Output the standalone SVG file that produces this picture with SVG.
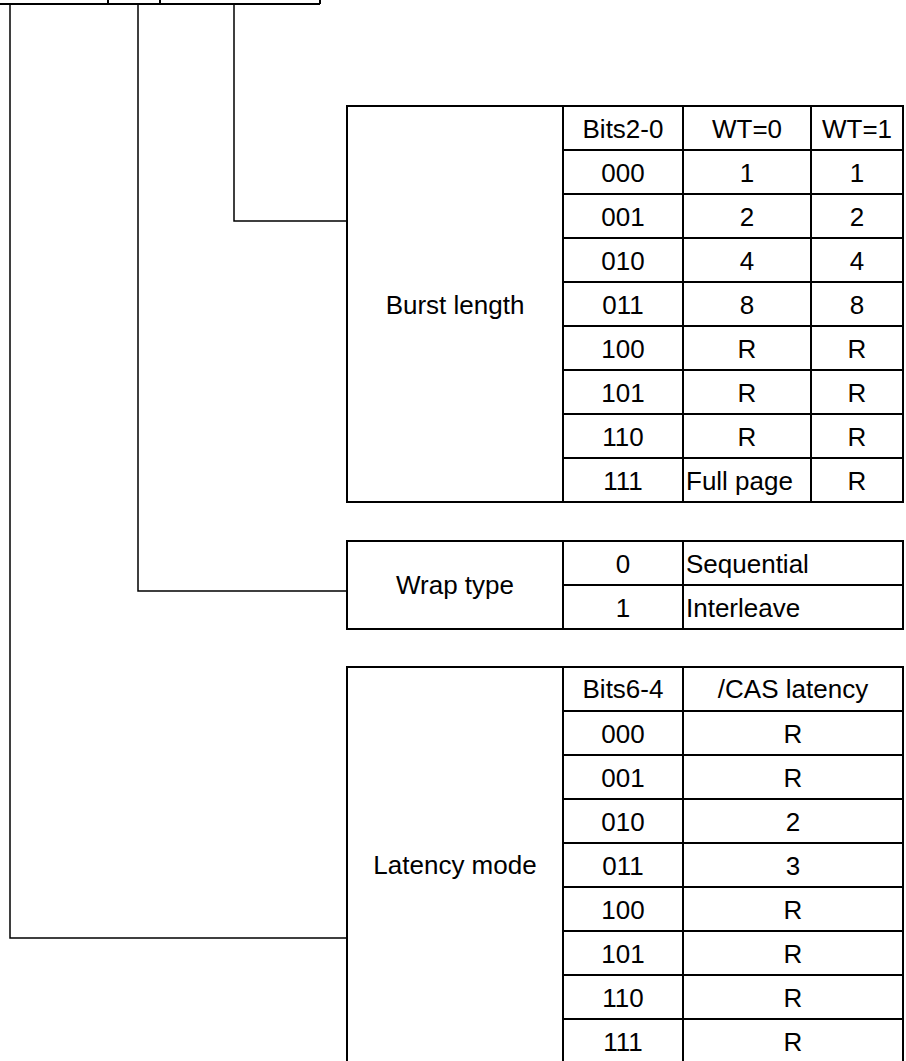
<svg xmlns="http://www.w3.org/2000/svg" width="906" height="1061" viewBox="0 0 906 1061">
<style>
.t{font-family:"Liberation Sans",Arial,sans-serif;font-size:26px;fill:#000;text-anchor:middle}
.l{text-anchor:start}
.b{fill:none;stroke:#000;stroke-width:2}
.c{fill:none;stroke:#000;stroke-width:1.5}
</style>
<rect width="906" height="1061" fill="#fff"/>
<g id="register">
<path class="b" d="M0 4H320M108 0V4M160 0V4M320 0V4"/>
</g>
<g id="connectors">
<path class="c" d="M234 4V221H347"/>
<path class="c" d="M138 4V591H347"/>
<path class="c" d="M10 4V938H347"/>
</g>
<g id="burst-length">
<rect class="b" x="347" y="106" width="556" height="396"/>
<path class="b" d="M563 106V502M683 106V502M811 106V502M563 150H903M563 194H903M563 238H903M563 282H903M563 326H903M563 370H903M563 414H903M563 458H903"/>
<text class="t" x="455" y="313.5">Burst length</text>
<text class="t" x="623" y="137.5">Bits2-0</text><text class="t" x="747" y="137.5">WT=0</text><text class="t" x="857" y="137.5">WT=1</text>
<text class="t" x="623" y="181.5">000</text><text class="t" x="747" y="181.5">1</text><text class="t" x="857" y="181.5">1</text>
<text class="t" x="623" y="225.5">001</text><text class="t" x="747" y="225.5">2</text><text class="t" x="857" y="225.5">2</text>
<text class="t" x="623" y="269.5">010</text><text class="t" x="747" y="269.5">4</text><text class="t" x="857" y="269.5">4</text>
<text class="t" x="623" y="313.5">011</text><text class="t" x="747" y="313.5">8</text><text class="t" x="857" y="313.5">8</text>
<text class="t" x="623" y="357.5">100</text><text class="t" x="747" y="357.5">R</text><text class="t" x="857" y="357.5">R</text>
<text class="t" x="623" y="401.5">101</text><text class="t" x="747" y="401.5">R</text><text class="t" x="857" y="401.5">R</text>
<text class="t" x="623" y="445.5">110</text><text class="t" x="747" y="445.5">R</text><text class="t" x="857" y="445.5">R</text>
<text class="t" x="623" y="489.5">111</text><text class="t l" x="686" y="489.5">Full page</text><text class="t" x="857" y="489.5">R</text>
</g>
<g id="wrap-type">
<rect class="b" x="347" y="541" width="556" height="88"/>
<path class="b" d="M563 541V629M683 541V629M563 585H903"/>
<text class="t" x="455" y="594">Wrap type</text>
<text class="t" x="623" y="572.5">0</text><text class="t l" x="686" y="572.5">Sequential</text>
<text class="t" x="623" y="616.5">1</text><text class="t l" x="686" y="616.5">Interleave</text>
</g>
<g id="latency-mode">
<rect class="b" x="347" y="667" width="556" height="396"/>
<path class="b" d="M563 667V1063M683 667V1063M563 711H903M563 755H903M563 799H903M563 843H903M563 887H903M563 931H903M563 975H903M563 1019H903"/>
<text class="t" x="455" y="874">Latency mode</text>
<text class="t" x="623" y="698">Bits6-4</text><text class="t" x="793" y="698">/CAS latency</text>
<text class="t" x="623" y="742.5">000</text><text class="t" x="793" y="742.5">R</text>
<text class="t" x="623" y="786.5">001</text><text class="t" x="793" y="786.5">R</text>
<text class="t" x="623" y="830.5">010</text><text class="t" x="793" y="830.5">2</text>
<text class="t" x="623" y="874.5">011</text><text class="t" x="793" y="874.5">3</text>
<text class="t" x="623" y="918.5">100</text><text class="t" x="793" y="918.5">R</text>
<text class="t" x="623" y="962.5">101</text><text class="t" x="793" y="962.5">R</text>
<text class="t" x="623" y="1006.5">110</text><text class="t" x="793" y="1006.5">R</text>
<text class="t" x="623" y="1050.5">111</text><text class="t" x="793" y="1050.5">R</text>
</g>
</svg>
